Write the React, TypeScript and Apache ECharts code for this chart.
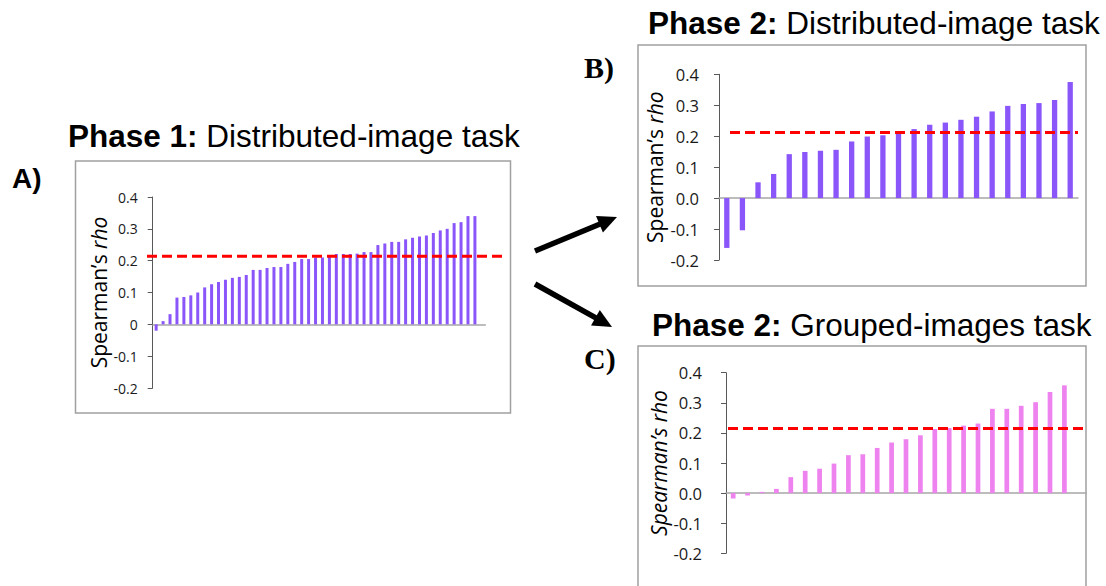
import React, { useEffect, useRef } from "react";
import * as echarts from "echarts";

// ---- data ----
const phase1Rho = [
  -0.02, 0.01, 0.032, 0.084, 0.086, 0.091, 0.1, 0.116, 0.126, 0.133, 0.14, 0.146, 0.149, 0.155,
  0.171, 0.171, 0.177, 0.18, 0.18, 0.19, 0.196, 0.205, 0.205, 0.21, 0.21, 0.214, 0.221, 0.221,
  0.221, 0.222, 0.227, 0.227, 0.249, 0.254, 0.259, 0.259, 0.267, 0.272, 0.276, 0.279, 0.287,
  0.295, 0.3, 0.318, 0.321, 0.34, 0.34,
];
const phase2DistributedRho = [
  -0.161, -0.104, 0.051, 0.078, 0.142, 0.149, 0.153, 0.156, 0.183, 0.199, 0.203, 0.211, 0.223,
  0.237, 0.244, 0.253, 0.263, 0.28, 0.298, 0.304, 0.307, 0.317, 0.375,
];
const phase2GroupedRho = [
  -0.018, -0.008, 0.004, 0.014, 0.053, 0.074, 0.081, 0.098, 0.126, 0.129, 0.15, 0.168, 0.179,
  0.192, 0.213, 0.216, 0.224, 0.231, 0.28, 0.28, 0.29, 0.302, 0.336, 0.358,
];
const thresholdA = 0.214;
const thresholdB = 0.212;
const thresholdC = 0.215;
const yTicks = [-0.2, -0.1, 0, 0.1, 0.2, 0.3, 0.4];
const yMin = yTicks[0];
const yMax = yTicks[yTicks.length - 1];
const yStep = 0.1;

const titleA = ["Phase 1:", " Distributed-image task"];
const titleB = ["Phase 2:", " Distributed-image task"];
const titleC = ["Phase 2:", " Grouped-images task"];

const PURPLE = "#8A56F9";
const PINK = "#EE82EE";
const RED = "#FF0000";
const LABEL_FONT = "'Open Sans', 'Liberation Sans', sans-serif";
const NAME_SIZE = 21;

const cats = (arr: number[]) => arr.map((_, i) => String(i + 1));

function yAxis(gridIndex: number, fmt: (v: number) => string, fontSize: number, margin: number,
  nameGap: number, allItalic: boolean) {
  return {
    type: "value",
    gridIndex,
    min: yMin,
    max: yMax,
    interval: yStep,
    splitLine: { show: false },
    axisLine: { show: true, lineStyle: { color: "#595959", width: 1 } },
    axisTick: { show: true, length: 5, inside: false, lineStyle: { color: "#595959" } },
    axisLabel: { formatter: fmt, fontSize, color: "#1a1a1a", fontFamily: LABEL_FONT, margin },
    name: allItalic ? "{i|Spearman’s rho}" : "{n|Spearman’s }{i|rho}",
    nameLocation: "middle",
    nameRotate: 90,
    nameGap,
    nameTextStyle: {
      fontFamily: LABEL_FONT,
      fontSize: NAME_SIZE,
      color: "#000",
      rich: {
        n: { fontFamily: LABEL_FONT, fontSize: NAME_SIZE, color: "#000" },
        i: { fontFamily: LABEL_FONT, fontSize: NAME_SIZE, color: "#000", fontStyle: "italic" },
      },
    },
  };
}

function lineGridAxes(gridIndex: number) {
  return {
    x: { type: "value", gridIndex, min: 0, max: 1, show: false },
    y: { type: "value", gridIndex, min: yMin, max: yMax, show: false },
  };
}

function arrow(tail: number[], tip: number[]) {
  const dx = tip[0] - tail[0];
  const dy = tip[1] - tail[1];
  const len = Math.hypot(dx, dy);
  const ux = dx / len, uy = dy / len;
  const hl = 19, hw = 9;
  const bx = tip[0] - ux * hl, by = tip[1] - uy * hl;
  const nx = -uy, ny = ux;
  return [
    { type: "line", shape: { x1: tail[0], y1: tail[1], x2: bx + ux * 2, y2: by + uy * 2 },
      style: { stroke: "#000", lineWidth: 5.5 } },
    { type: "polygon", shape: { points: [tip, [bx + nx * hw, by + ny * hw], [bx - nx * hw, by - ny * hw]] },
      style: { fill: "#000" } },
  ];
}

function titleText(parts: string[], x: number, y: number) {
  return {
    type: "text",
    x,
    y,
    style: {
      text: `{b|${parts[0]}}{r|${parts[1]}}`,
      verticalAlign: "middle",
      align: "left",
      rich: {
        b: { fontFamily: "'Liberation Sans', Arial, sans-serif", fontWeight: "bold", fontSize: 31.5, fill: "#000" },
        r: { fontFamily: "'Liberation Sans', Arial, sans-serif", fontSize: 31.5, fill: "#000" },
      },
    },
  };
}

export default function App() {
  const ref = useRef<HTMLDivElement>(null);
  useEffect(() => {
    if (!ref.current) return;
    const chart = echarts.init(ref.current, undefined, { renderer: "svg" });
    const la = lineGridAxes(3), lb = lineGridAxes(4), lc = lineGridAxes(5);
    const fmtA = (v: number) => (Math.abs(v) < 1e-9 ? "0" : v.toFixed(1));
    const fmtBC = (v: number) => (Math.abs(v) < 1e-9 ? "0.0" : v.toFixed(1));
    const xCat = (gridIndex: number, data: string[], max: number) => ({
      type: "category",
      gridIndex,
      data,
      max,
      axisLine: { show: true, onZero: true, lineStyle: { color: "#a6a6a6", width: 1.5 } },
      axisTick: { show: false },
      axisLabel: { show: false },
      splitLine: { show: false },
    });
    chart.setOption({
      animation: false,
      backgroundColor: "#fff",
      grid: [
        { left: 152.7, top: 197, width: 332.6, height: 191 },
        { left: 719, top: 74.3, width: 359, height: 185.7 },
        { left: 726, top: 372.7, width: 360, height: 180.6 },
        { left: 147, top: 197, width: 357, height: 191 },
        { left: 730, top: 74.3, width: 348, height: 185.7 },
        { left: 728, top: 372.7, width: 357, height: 180.6 },
      ],
      xAxis: [
        xCat(0, cats(phase1Rho), phase1Rho.length),
        xCat(1, cats(phase2DistributedRho), phase2DistributedRho.length - 1),
        xCat(2, cats(phase2GroupedRho), phase2GroupedRho.length),
        la.x, lb.x, lc.x,
      ],
      yAxis: [
        yAxis(0, fmtA, 14, 15, 43, false),
        yAxis(1, fmtBC, 16.5, 20, 54, false),
        yAxis(2, fmtBC, 16.5, 24, 57, true),
        la.y, lb.y, lc.y,
      ],
      series: [
        { type: "bar", xAxisIndex: 0, yAxisIndex: 0, data: phase1Rho, barWidth: 3, itemStyle: { color: PURPLE } },
        { type: "bar", xAxisIndex: 1, yAxisIndex: 1, data: phase2DistributedRho, barWidth: 5.3, itemStyle: { color: PURPLE } },
        { type: "bar", xAxisIndex: 2, yAxisIndex: 2, data: phase2GroupedRho, barWidth: 4.7, itemStyle: { color: PINK } },
        ...[[3, thresholdA], [4, thresholdB], [5, thresholdC]].map(([gi, th]) => ({
          type: "line",
          xAxisIndex: gi,
          yAxisIndex: gi,
          data: [[0, th], [1, th]],
          symbol: "none",
          z: 5,
          lineStyle: { color: RED, width: 3, type: [10, 5] },
        })),
      ],
      graphic: [
        { type: "rect", shape: { x: 75.5, y: 161, width: 435, height: 252 }, style: { fill: "none", stroke: "#a0a0a0", lineWidth: 1.5 }, z: -1 },
        { type: "rect", shape: { x: 638, y: 45, width: 448, height: 241 }, style: { fill: "none", stroke: "#a0a0a0", lineWidth: 1.5 }, z: -1 },
        { type: "rect", shape: { x: 638, y: 346, width: 448, height: 260 }, style: { fill: "none", stroke: "#a0a0a0", lineWidth: 1.5 }, z: -1 },
        titleText(titleA, 68, 136),
        titleText(titleB, 648, 22.5),
        titleText(titleC, 652, 325),
        { type: "text", x: 12, y: 178, style: { text: "A)", verticalAlign: "middle", fontFamily: "'Liberation Sans', Arial, sans-serif", fontWeight: "bold", fontSize: 28, fill: "#000" } },
        { type: "text", x: 584, y: 67, style: { text: "B)", verticalAlign: "middle", fontFamily: "'Liberation Serif', 'Times New Roman', serif", fontWeight: "bold", fontSize: 30, fill: "#000" } },
        { type: "text", x: 584, y: 358, style: { text: "C)", verticalAlign: "middle", fontFamily: "'Liberation Serif', 'Times New Roman', serif", fontWeight: "bold", fontSize: 30, fill: "#000" } },
        ...arrow([535, 251], [617, 217]),
        ...arrow([535, 284], [612, 327]),
      ],
    });
    return () => chart.dispose();
  }, []);
  return <div ref={ref} style={{ position: "fixed", left: 0, top: 0, width: 1106, height: 586 }} />;
}
